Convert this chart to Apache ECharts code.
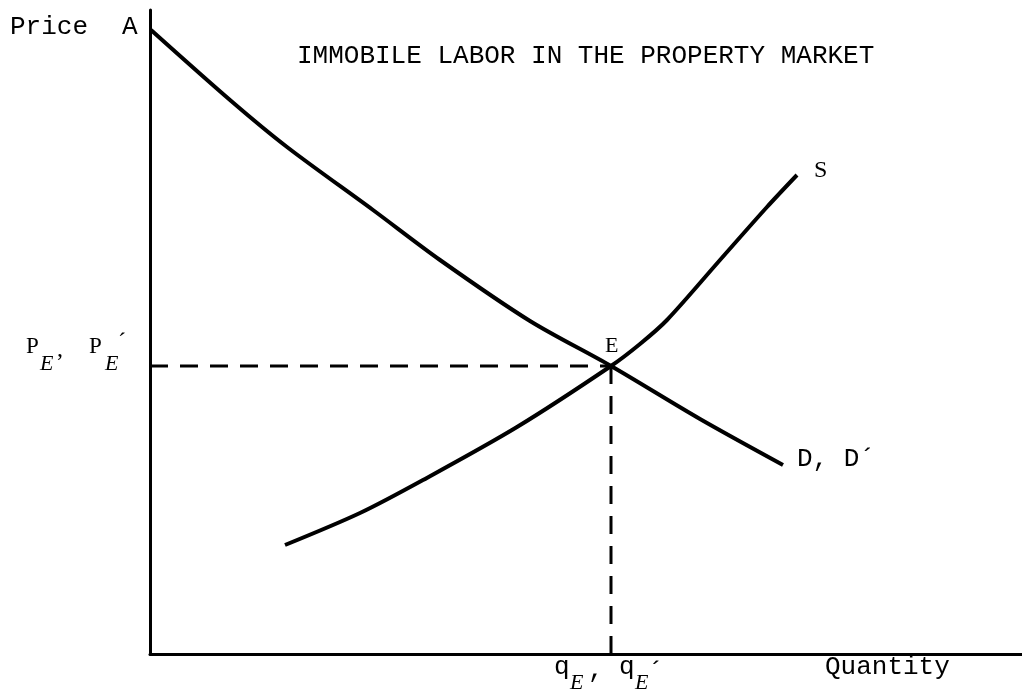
<!DOCTYPE html>
<html>
<head>
<meta charset="utf-8">
<script src="https://cdn.jsdelivr.net/npm/echarts@6/dist/echarts.min.js"></script>
<style>
  html, body { margin: 0; background: #fff; }
  #main { width: 1022px; height: 693px; }
</style>
</head>
<body>
<div id="main"></div>
<script>
// demand curve D, D' (quantity, price)
var demandQ = [1, 80, 137, 223, 290, 380, 461, 550, 633];
var demandP = [624, 554, 507, 444, 394, 333, 288, 235, 189];

// supply curve S
var supplyQ = [135, 210, 273, 367, 461, 490, 517, 570, 617, 647];
var supplyP = [109, 141, 174, 227, 288, 310, 334, 394, 447, 479];

// equilibrium point E
var eqQ = 461;
var eqP = 288;

function pairs(xs, ys) {
  return xs.map(function (x, i) { return [x, ys[i]]; });
}

var mono = '"Liberation Mono", "DejaVu Sans Mono", monospace';
var serif = '"Liberation Serif", "DejaVu Serif", serif';

// 文字 helper
function txt(text, x, y, size, family, italic) {
  return {
    type: 'text',
    x: x,
    y: y,
    style: {
      text: text,
      fill: '#000',
      font: (italic ? 'italic ' : '') + size + 'px ' + family,
      verticalAlign: 'middle',
      align: 'left'
    }
  };
}

var chart = echarts.init(document.getElementById('main'));

var option = {
  animation: false,
  backgroundColor: '#fff',
  grid: { left: 150, right: 0, top: 10, bottom: 39 },
  xAxis: {
    type: 'value',
    min: 0,
    max: 872,
    axisLine: { lineStyle: { color: '#000', width: 3 } },
    axisTick: { show: false },
    axisLabel: { show: false },
    splitLine: { show: false }
  },
  yAxis: {
    type: 'value',
    min: 0,
    max: 644,
    axisLine: { show: true, lineStyle: { color: '#000', width: 3 } },
    axisTick: { show: false },
    axisLabel: { show: false },
    splitLine: { show: false }
  },
  series: [
    {
      name: 'D',
      type: 'line',
      data: pairs(demandQ, demandP),
      smooth: 0.3,
      symbol: 'none',
      lineStyle: { color: '#000', width: 4 }
    },
    {
      name: 'S',
      type: 'line',
      data: pairs(supplyQ, supplyP),
      smooth: 0.3,
      symbol: 'none',
      lineStyle: { color: '#000', width: 4 }
    },
    {
      name: 'priceDash',
      type: 'line',
      data: [[0, eqP], [eqQ, eqP]],
      symbol: 'none',
      lineStyle: { color: '#000', width: 3, type: [18, 12] }
    },
    {
      name: 'qtyDash',
      type: 'line',
      data: [[eqQ, eqP], [eqQ, 0]],
      symbol: 'none',
      lineStyle: { color: '#000', width: 3, type: [18, 12] }
    }
  ],
  graphic: [
    txt('Price', 10, 27, 26, mono),
    txt('A', 122, 27, 26, mono),
    txt('IMMOBILE LABOR IN THE PROPERTY MARKET', 297, 56, 26, mono),
    txt('S', 814, 171, 24, serif),
    txt('E', 605, 346, 22, serif),
    txt('D, D\u00b4', 797, 459, 26, mono),
    // P_E, P_E'
    txt('P', 26, 347, 23, serif),
    txt('E', 40, 364, 22, serif, true),
    txt(',', 57, 350, 24, serif),
    txt('P', 89, 347, 23, serif),
    txt('E', 105, 364, 22, serif, true),
    txt('\u00b4', 118, 343, 24, serif),
    // q_E, q_E'
    txt('q', 554, 667, 26, mono),
    txt('E', 570, 683, 22, serif, true),
    txt(',', 588, 670, 26, mono),
    txt('q', 619, 667, 26, mono),
    txt('E', 635, 683, 22, serif, true),
    txt('\u00b4', 648, 672, 26, mono),
    txt('Quantity', 825, 667, 26, mono)
  ]
};

chart.setOption(option);
</script>
</body>
</html>
